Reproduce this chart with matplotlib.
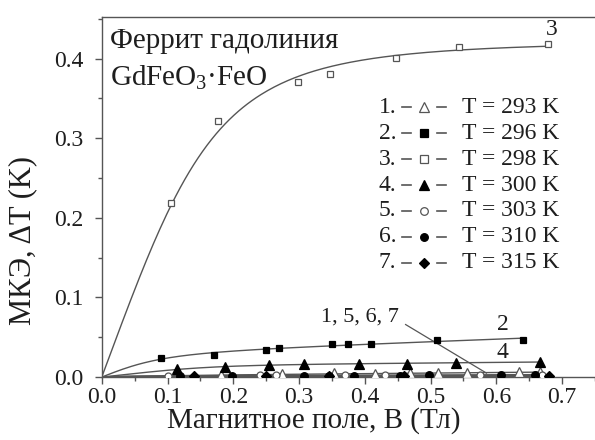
import numpy as np
import matplotlib
matplotlib.use("Agg")
import matplotlib.pyplot as plt
from matplotlib.ticker import MultipleLocator, FormatStrFormatter

plt.rcParams['font.family'] = ['Liberation Serif', 'DejaVu Serif']
plt.rcParams['mathtext.fontset'] = 'custom'
plt.rcParams['mathtext.rm'] = 'Liberation Serif'
plt.rcParams['mathtext.default'] = 'regular'

# magnetocaloric effect of gadolinium ferrite, dT vs field B
B1 = [0.182, 0.274, 0.353, 0.415, 0.468, 0.511, 0.555, 0.634, 0.667]
T1 = [0.0025, 0.0034, 0.0046, 0.0038, 0.0046, 0.0054, 0.0054, 0.0060, 0.0063]
B2 = [0.09, 0.17, 0.25, 0.27, 0.35, 0.375, 0.41, 0.51, 0.64]
T2 = [0.024, 0.028, 0.034, 0.036, 0.041, 0.041, 0.042, 0.046, 0.047]
B3 = [0.105, 0.177, 0.298, 0.347, 0.447, 0.543, 0.678]
T3 = [0.218, 0.321, 0.370, 0.381, 0.401, 0.415, 0.418]
B4 = [0.115, 0.187, 0.255, 0.307, 0.391, 0.464, 0.538, 0.667]
T4 = [0.0097, 0.013, 0.015, 0.016, 0.017, 0.017, 0.018, 0.019]
B5 = [0.10, 0.24, 0.265, 0.37, 0.43, 0.575, 0.67]
T5 = [0.0015, 0.002, 0.002, 0.0025, 0.0025, 0.003, 0.003]
B6 = [0.119, 0.198, 0.308, 0.345, 0.384, 0.454, 0.497, 0.607, 0.659]
T6 = [0.0015, 0.001, 0.0015, 0.0015, 0.0015, 0.0015, 0.002, 0.002, 0.002]
B7 = [0.14, 0.25, 0.345, 0.46, 0.68]
T7 = [0.0008, 0.001, 0.001, 0.001, 0.001]

temps = [293, 296, 298, 300, 303, 310, 315]
markers = ['^', 's', 's', '^', 'o', 'o', 'D']
filled = [False, True, False, True, False, True, True]
msizes = [6.5, 5, 4.5, 6.5, 5, 5.5, 5]
series = [(B1, T1), (B2, T2), (B3, T3), (B4, T4), (B5, T5), (B6, T6), (B7, T7)]
# curve 3 saturates, the others keep a slow linear rise
linear_term = [True, True, False, True, True, True, True]
# smallest knee width allowed in the fit
min_knee = [0.02, 0.02, 0.19, 0.02, 0.02, 0.02, 0.02]

gray = '#555555'
ink = '#1e1e1e'


def fit_curve(b, t, lin, wmin):
    # smooth trend a*B/(w^p+B^p)^(1/p) (+ c*B) through the origin
    b = np.asarray(b)
    t = np.asarray(t)
    best = None
    for p in [2.0, 2.5, 3.0]:
        for w in np.linspace(wmin, 0.6, 300):
            cols = [b / (w ** p + b ** p) ** (1 / p)] + ([b] if lin else [])
            A = np.column_stack(cols)
            coef = np.linalg.lstsq(A, t, rcond=None)[0]
            err = np.sum((A @ coef - t) ** 2)
            if best is None or err < best[0]:
                best = (err, w, p, coef)
    _, w, p, coef = best
    x = np.linspace(0, b.max(), 200)
    y = coef[0] * x / (w ** p + x ** p) ** (1 / p)
    if lin:
        y = y + coef[1] * x
    return x, y


fig = plt.figure(figsize=(5.95, 4.4), dpi=100)
ax = fig.add_axes([0.171, 0.143, 0.829, 0.818])

for (b, t), m, f, ms, lin, wm in zip(series, markers, filled, msizes,
                                     linear_term, min_knee):
    x, y = fit_curve(b, t, lin, wm)
    ax.plot(x, y, color=gray, lw=1.0, zorder=2)
    ax.plot(b, t, ls='none', marker=m, ms=ms,
            mfc='black' if f else 'white',
            mec='black' if f else gray, mew=0.9, zorder=3)

ax.set_xlim(0, 0.75)
ax.set_ylim(0, 0.452)
ax.xaxis.set_major_locator(MultipleLocator(0.1))
ax.xaxis.set_minor_locator(MultipleLocator(0.05))
ax.yaxis.set_major_locator(MultipleLocator(0.1))
ax.yaxis.set_minor_locator(MultipleLocator(0.05))
ax.xaxis.set_major_formatter(FormatStrFormatter('%.1f'))
ax.yaxis.set_major_formatter(FormatStrFormatter('%.1f'))
ax.tick_params(which='both', direction='out', color=gray, labelsize=17,
               labelcolor=ink)
ax.tick_params(which='major', length=5, width=1)
ax.tick_params(which='minor', length=3, width=1)
ax.tick_params(axis='y', which='major', pad=8)
ax.tick_params(axis='x', which='major', pad=2)
for s in ['left', 'bottom', 'top']:
    ax.spines[s].set_color(gray)
    ax.spines[s].set_linewidth(1.0)
ax.spines['right'].set_visible(False)
ax.set_xlabel('Магнитное поле, B (Тл)', fontsize=21, color=ink)
ax.set_ylabel('МКЭ, ΔT (K)', fontsize=22, color=ink)
ax.xaxis.set_label_coords(0.43, -0.083)
ax.yaxis.set_label_coords(-0.131, 0.38)

ax.text(0.012, 0.422, 'Феррит гадолиния', fontsize=21, va='center', color=ink)
ax.text(0.012, 0.376, 'GdFeO$_3$·FeO', fontsize=21, va='center', color=ink)

# curve numbers
ax.text(0.684, 0.437, '3', fontsize=17, ha='center', va='center', color=ink)
ax.text(0.61, 0.066, '2', fontsize=17, ha='center', va='center', color=ink)
ax.text(0.61, 0.031, '4', fontsize=17, ha='center', va='center', color=ink)
ax.text(0.393, 0.076, '1, 5, 6, 7', fontsize=16, ha='center', va='center', color=ink)
ax.plot([0.462, 0.585], [0.066, 0.005], color=gray, lw=0.9)

# legend built by hand: number, dash-marker-dash, temperature
for i, (T, m, f, ms) in enumerate(zip(temps, markers, filled, msizes)):
    y = 0.339 - 0.0326 * i
    ax.text(0.448, y, f'{i + 1}.', fontsize=17, ha='right', va='center', color=ink)
    ax.plot([0.456, 0.470], [y, y], color=gray, lw=1.2)
    ax.plot([0.510, 0.524], [y, y], color=gray, lw=1.2)
    ax.plot([0.490], [y], ls='none', marker=m, ms=max(ms, 5.5),
            mfc='black' if f else 'white', mec='black' if f else gray,
            mew=0.9)
    ax.text(0.548, y, f'T = {T} K', fontsize=17, ha='left', va='center', color=ink)

fig.savefig('out.png', dpi=100)
